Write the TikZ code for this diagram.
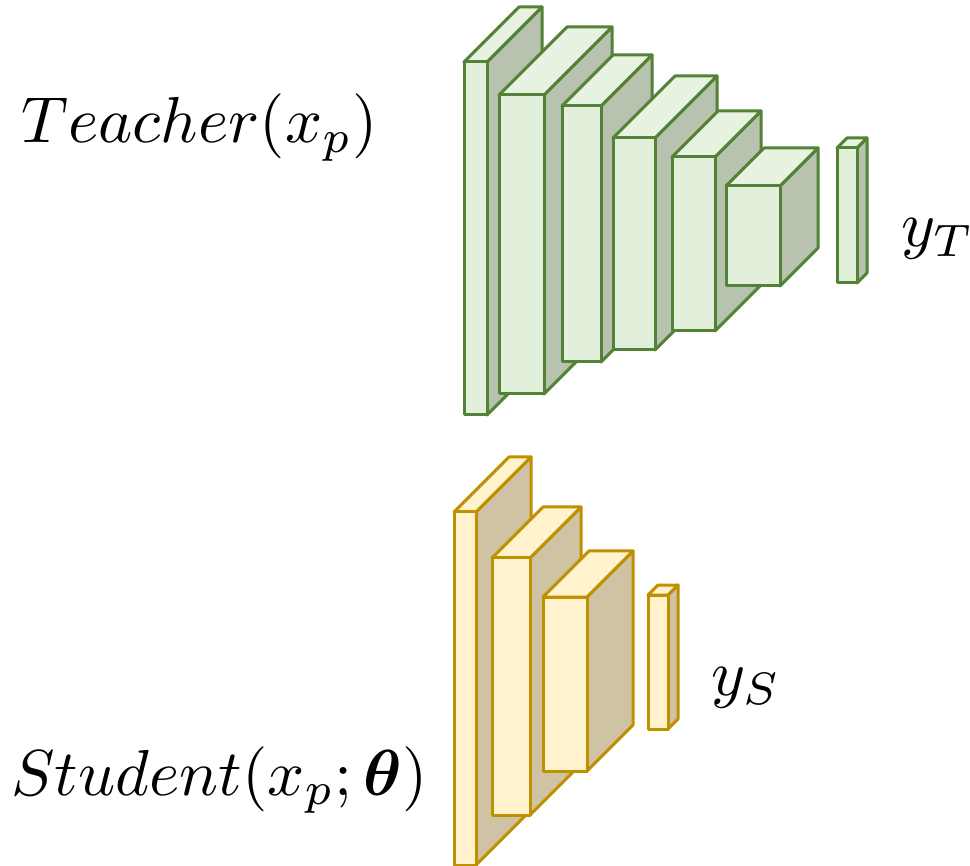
\documentclass[tikz,border=0pt]{standalone}
\usepackage{amsmath}
\usepackage{bm}
\definecolor{tfront}{HTML}{E2EFDA}
\definecolor{ttop}{HTML}{E8F2E1}
\definecolor{tside}{HTML}{B7C3AF}
\definecolor{tline}{HTML}{538135}
\definecolor{sfront}{HTML}{FFF2CC}
\definecolor{stop}{HTML}{FFF2CC}
\definecolor{sside}{HTML}{CFC3A4}
\definecolor{sline}{HTML}{BF9000}
\tikzset{
  tfrontst/.style={fill=tfront,draw=tline,line width=3pt},
  ttopst/.style={fill=ttop,draw=tline,line width=3pt},
  tsidest/.style={fill=tside,draw=tline,line width=3pt},
  sfrontst/.style={fill=sfront,draw=sline,line width=3pt},
  stopst/.style={fill=stop,draw=sline,line width=3pt},
  ssidest/.style={fill=sside,draw=sline,line width=3pt},
  lbl/.style={inner sep=0pt,anchor=base west,scale=6.5}
}
% #1 l, #2 t, #3 r, #4 b, #5 depth, #6 prefix (t or s)
\newcommand\mycuboid[6]{%
  \draw[#6sidest] (#3,#2) -- ++(#5,-#5) -- (#3+#5,#4-#5) -- (#3,#4) -- cycle;
  \draw[#6topst] (#1,#2) -- ++(#5,-#5) -- (#3+#5,#2-#5) -- (#3,#2) -- cycle;
  \draw[#6frontst] (#1,#2) rectangle (#3,#4);
}
\begin{document}
\begin{tikzpicture}[x=1pt,y=-1pt,line join=round]
\useasboundingbox (0,0) rectangle (970,866);
% Teacher
\mycuboid{464}{62}{487}{415}{55}{t}
\mycuboid{499}{95}{544}{394}{68}{t}
\mycuboid{562}{106}{601}{362}{51}{t}
\mycuboid{613}{138}{655}{350}{62}{t}
\mycuboid{672}{157}{715}{331}{46}{t}
\mycuboid{726}{186}{780}{286}{38}{t}
\mycuboid{837}{148}{857}{283}{10}{t}
% Student
\mycuboid{454}{512}{476}{865}{55}{s}
\mycuboid{492}{558}{530}{815}{51}{s}
\mycuboid{543}{597}{587}{771}{46}{s}
\mycuboid{648}{595}{668}{729}{10}{s}
% Labels
\node[lbl] (teacher) at (20,143) {$Teacher(x_p)$};
\node[lbl] (student) at (10,795) {$Student(x_p;\bm{\theta})$};
\node[lbl] (yt) at (900,247) {$y_T$};
\node[lbl] (ys) at (710,695) {$y_S$};
\end{tikzpicture}
\end{document}
